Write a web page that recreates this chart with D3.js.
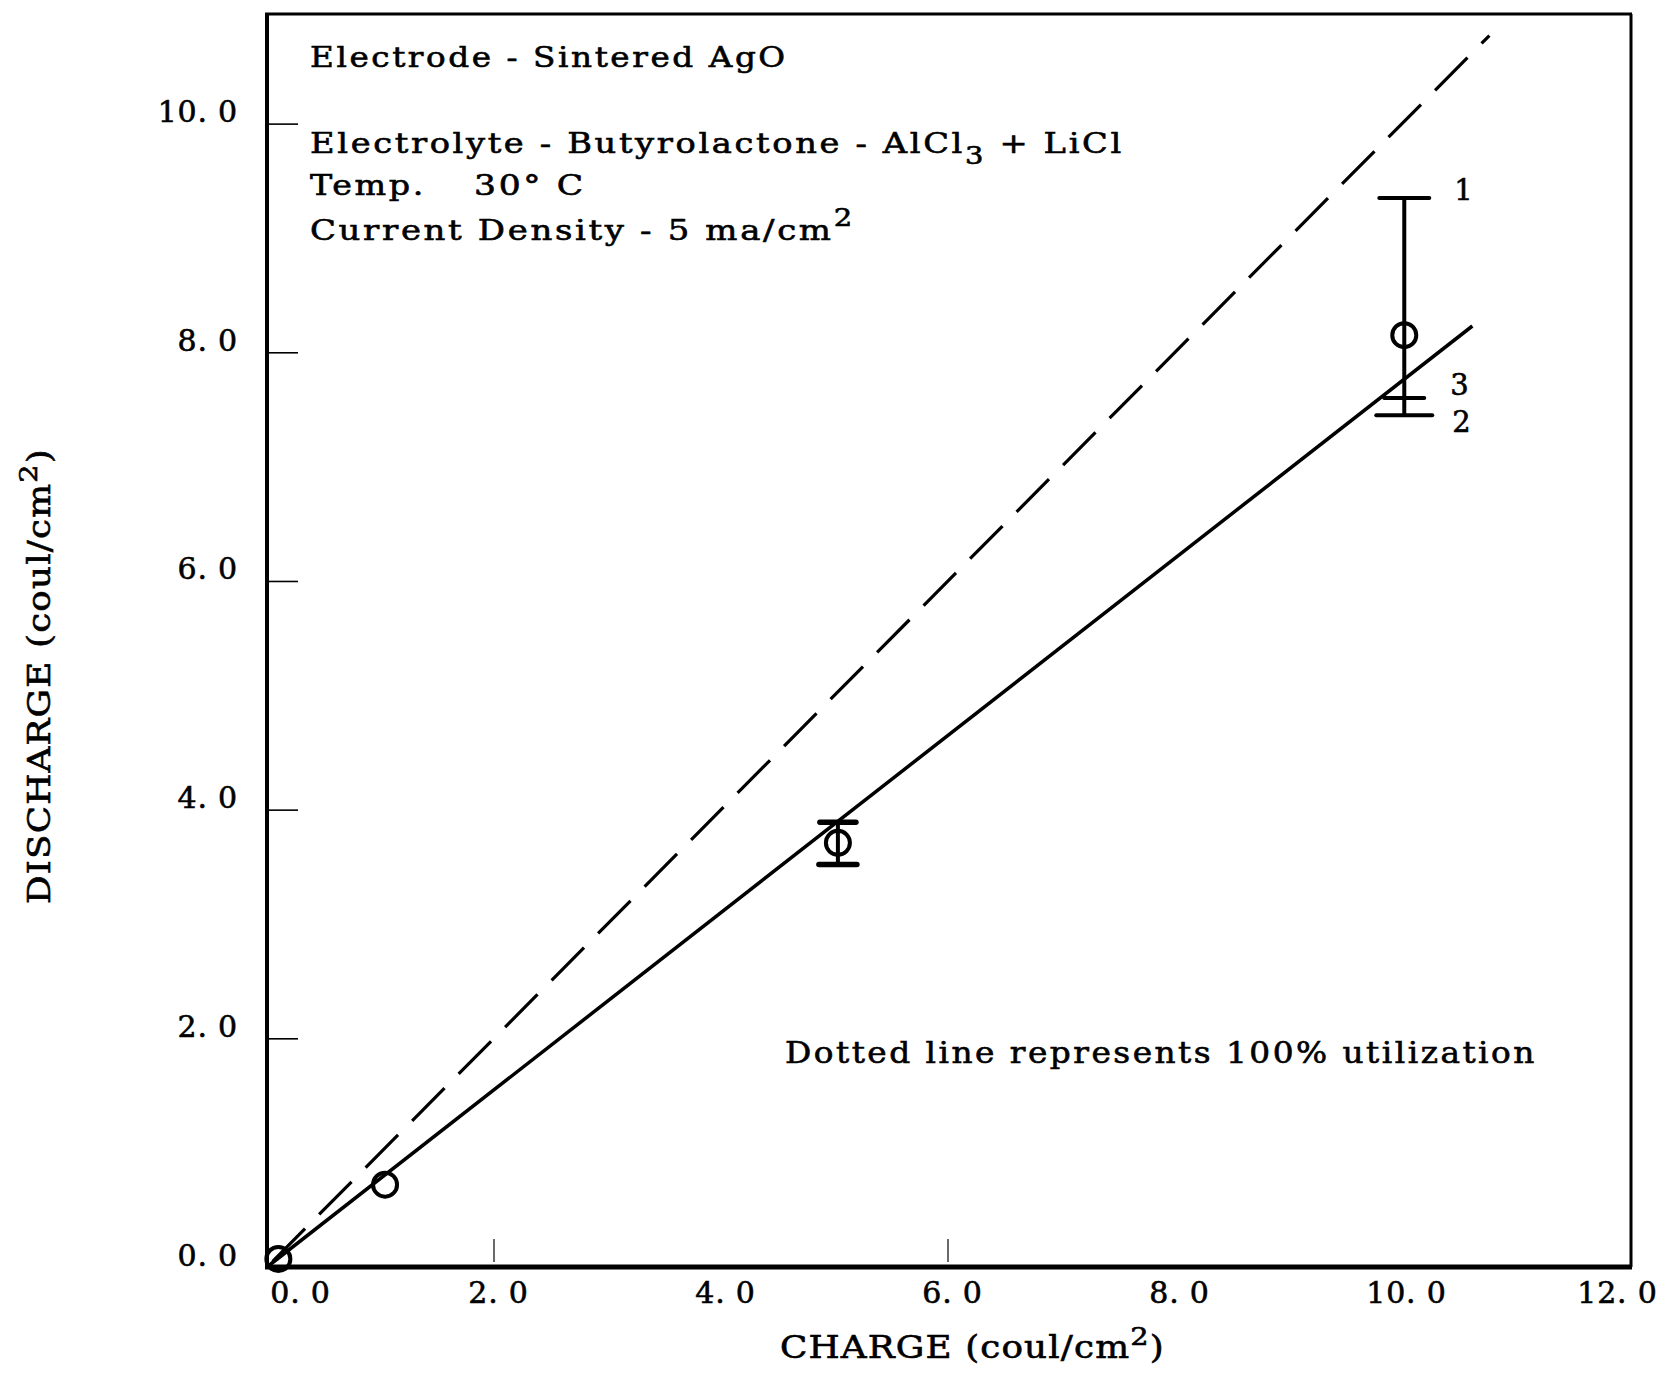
<!DOCTYPE html>
<html><head><meta charset="utf-8">
<script src="https://cdn.jsdelivr.net/npm/d3@7"></script>
<style>
html,body{margin:0;padding:0;background:#fff;}
svg{display:block;}
text{font-family:"DejaVu Serif",serif;fill:#000;stroke:#000;stroke-width:0.6px;}
</style></head>
<body>
<svg id="chart" width="1669" height="1383"></svg>
<script>
// ---------- data ----------
const xTicks = [0, 2, 4, 6, 8, 10, 12];
const xTickLabels = ["0. 0", "2. 0", "4. 0", "6. 0", "8. 0", "10. 0", "12. 0"];
const yTicks = [0, 2, 4, 6, 8, 10];
const yTickLabels = ["0. 0", "2. 0", "4. 0", "6. 0", "8. 0", "10. 0"];
const visibleXTickMarks = [2, 6];
const pointX = [0.1, 1.04, 5.03, 10.02];
const pointY = [0.07, 0.72, 3.71, 8.15];
const errX = [5.03, 10.02];
const errLo = [3.52, 7.45];
const errHi = [3.89, 9.35];
const capX = [5.03, 5.03, 10.02, 10.02, 10.02];
const capY = [3.89, 3.52, 9.35, 7.60, 7.45];
const capLabels = ["", "", "1", "3", "2"];
const fitLine = [[0, 0], [10.62, 8.23]];
const idealLine = [[0, 0], [10.77, 10.77]];
const xTitle = "CHARGE (coul/cm", yTitle = "DISCHARGE (coul/cm";
const noteText = "Dotted line represents 100% utilization";

// ---------- helpers ----------
// widen text horizontally (typewriter look) so it spans `target` px
function fitScale(sel, target, ls, ax, ay, extra) {
  sel.attr("letter-spacing", ls);
  const w = sel.node().getComputedTextLength();
  const s = target / w;
  sel.attr("transform", `translate(${ax},${ay}) ${extra || ""} scale(${s.toFixed(4)},1)`)
     .attr("x", 0).attr("y", 0);
}

// ---------- layout ----------
const svg = d3.select("#chart");
const L = 267, R = 1629, B = 1267, T = 15;
const x = d3.scaleLinear().domain([0, 12]).range([L, R]);
const y = d3.scaleLinear().domain([0, 10.95]).range([B, T]);

// frame
const frame = svg.append("g").attr("fill", "none").attr("stroke", "#000");
frame.append("line").attr("x1", L).attr("x2", L).attr("y1", T - 1.5).attr("y2", B + 2).attr("stroke-width", 4);
frame.append("line").attr("x1", L - 2).attr("x2", R + 3).attr("y1", B).attr("y2", B).attr("stroke-width", 5);
frame.append("line").attr("x1", L - 2).attr("x2", R + 3).attr("y1", T - 1).attr("y2", T - 1).attr("stroke-width", 3);
frame.append("line").attr("x1", R + 2).attr("x2", R + 2).attr("y1", T - 1).attr("y2", B).attr("stroke-width", 3);

// y axis (inner ticks)
const yAxis = d3.axisLeft(y).tickValues(yTicks).tickSize(-31).tickPadding(29)
  .tickFormat((d, i) => yTickLabels[i]);
const gy = svg.append("g").attr("transform", `translate(${L},0)`).call(yAxis);
gy.select(".domain").remove();
gy.selectAll(".tick line").attr("stroke", "#000").attr("stroke-width", 1.6)
  .filter(d => d === 0).remove();
gy.selectAll(".tick text").attr("font-size", 30).attr("letter-spacing", 0.8)
  .attr("font-family", "DejaVu Serif").attr("dy", "-2px").attr("fill", "#000");

// x axis (labels only)
const xAxis = d3.axisBottom(x).tickValues(xTicks).tickSize(0).tickPadding(0)
  .tickFormat((d, i) => xTickLabels[i]);
const gx = svg.append("g").attr("transform", `translate(0,${B})`).call(xAxis);
gx.select(".domain").remove();
gx.selectAll(".tick text").attr("font-size", 30).attr("letter-spacing", 0.8).attr("fill", "#000")
  .attr("font-family", "DejaVu Serif").attr("y", 36).attr("dy", 0)
  .attr("dx", d => d === 0 ? 33 : (d === 12 ? -12 : 4));
// faint inner tick marks that are visible on the original
svg.append("g").selectAll("line").data(visibleXTickMarks).join("line")
  .attr("x1", d => x(d)).attr("x2", d => x(d))
  .attr("y1", B - 28).attr("y2", B - 5)
  .attr("stroke", "#444").attr("stroke-width", 1.6);

// axis titles
const xt = svg.append("text").attr("font-size", 31);
xt.append("tspan").text(xTitle);
xt.append("tspan").attr("dy", -13).attr("font-size", 25).text("2");
xt.append("tspan").attr("dy", 13).text(")");
fitScale(xt, 385, 1, 780, 1358);

const yt = svg.append("text").attr("font-size", 31);
yt.append("tspan").text(yTitle);
yt.append("tspan").attr("dy", -13).attr("font-size", 25).text("2");
yt.append("tspan").attr("dy", 13).text(")");
fitScale(yt, 456, 1, 50, 904, "rotate(-90)");

// lines
const line = d3.line().x(d => x(d[0])).y(d => y(d[1]));
svg.append("path").datum(idealLine).attr("d", line)
  .attr("fill", "none").attr("stroke", "#000").attr("stroke-width", 3.2)
  .attr("stroke-dasharray", "46,20").attr("stroke-dashoffset", -8);
svg.append("path").datum(fitLine).attr("d", line)
  .attr("fill", "none").attr("stroke", "#000").attr("stroke-width", 3.5);

// error bars
svg.append("g").selectAll("line").data(errX).join("line")
  .attr("x1", d => x(d)).attr("x2", d => x(d))
  .attr("y1", (d, i) => y(errLo[i])).attr("y2", (d, i) => y(errHi[i]))
  .attr("stroke", "#000").attr("stroke-width", 4);
const capHalf = [18, 19, 25, 20, 28];
svg.append("g").selectAll("line").data(capX).join("line")
  .attr("x1", (d, i) => x(d) - capHalf[i]).attr("x2", (d, i) => x(d) + capHalf[i])
  .attr("y1", (d, i) => y(capY[i])).attr("y2", (d, i) => y(capY[i]))
  .attr("stroke", "#000").attr("stroke-width", (d, i) => i < 2 ? 5.5 : 4)
  .attr("stroke-linecap", "round");
const capLabelDx = [0, 0, 50, 46, 48], capLabelDy = [0, 0, 2, -3, 17];
svg.append("g").selectAll("text").data(capX).join("text")
  .attr("x", (d, i) => x(d) + capLabelDx[i]).attr("y", (d, i) => y(capY[i]) + capLabelDy[i])
  .attr("font-size", 29).text((d, i) => capLabels[i]);

// points
svg.append("g").selectAll("circle").data(pointX).join("circle")
  .attr("cx", d => x(d)).attr("cy", (d, i) => y(pointY[i])).attr("r", 12)
  .attr("fill", "none").attr("stroke", "#000").attr("stroke-width", 4);

// annotation block
const info = svg.append("g").attr("font-size", 28);
const l1 = info.append("text").text("Electrode - Sintered AgO");
fitScale(l1, 478, 2.2, 310, 67);
const l2 = info.append("text");
l2.append("tspan").text("Electrolyte - Butyrolactone - AlCl");
l2.append("tspan").attr("dy", 11).attr("font-size", 24).text("3");
l2.append("tspan").attr("dy", -11).text(" + LiCl");
fitScale(l2, 814, 2.2, 310, 153);
const l3a = info.append("text").text("Temp.");
fitScale(l3a, 116, 2.2, 310, 195);
const l3b = info.append("text").text("30\u00B0 C");
fitScale(l3b, 112, 2.2, 474, 195);
const l4 = info.append("text");
l4.append("tspan").text("Current Density - 5 ma/cm");
l4.append("tspan").attr("dy", -14).attr("font-size", 24).text("2");
fitScale(l4, 545, 2.2, 310, 240);

const note = svg.append("text").attr("font-size", 29).text(noteText);
fitScale(note, 752, 2.2, 785, 1063);
</script>
</body></html>
